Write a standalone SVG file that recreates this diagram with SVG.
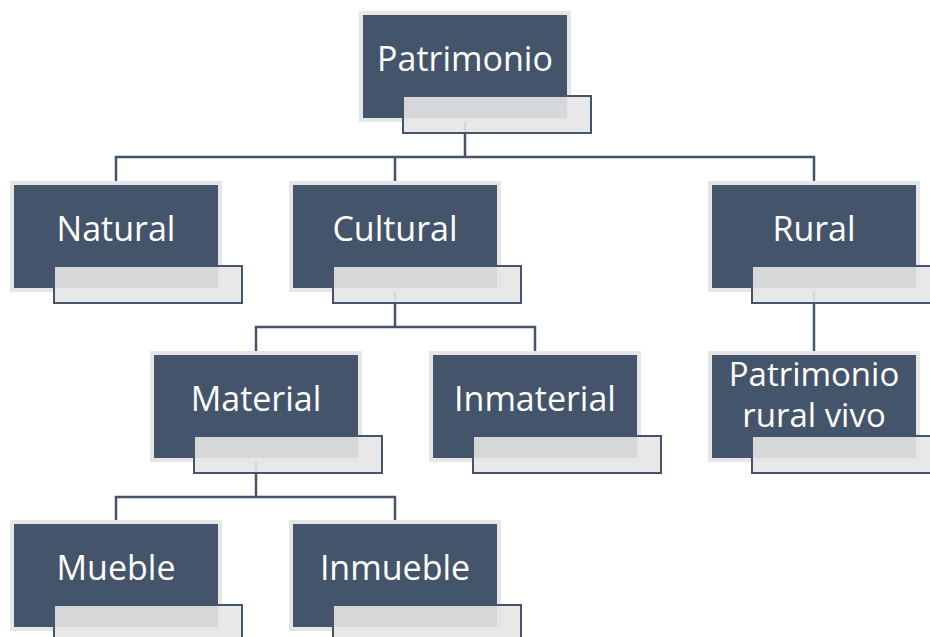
<svg xmlns="http://www.w3.org/2000/svg" width="930" height="637" viewBox="0 0 930 637">
<style>
.halo{fill:#e7e6e6}
.box{fill:#44546a}
.tab{fill:#e7e6e6;fill-opacity:0.9;stroke:#44546a;stroke-width:2}
.lbl{font-family:"Open Sans","Noto Sans",sans-serif;font-size:34px;fill:#ffffff;text-anchor:middle}
.sm{font-size:33px}
.conn{fill:none;stroke:#44546a;stroke-width:2.5}
</style>
<rect width="930" height="637" fill="#ffffff"/>
<g id="connectors" class="conn">
<path d="M465 119 V157 M116 185 V157 H814 V185 M395 157 V185"/>
<path d="M395 288 V327 M256 355 V327 H535 V355"/>
<path d="M256 458 V497 M116 524 V497 H395 V524"/>
<path d="M814 288 V355"/>
</g>
<g id="patrimonio">
<rect class="halo" x="359" y="11" width="212" height="111"/>
<rect class="box" x="363" y="15" width="204" height="103"/>
<rect class="tab" x="403" y="96" width="188" height="37"/>
<text class="lbl" x="465" y="71">Patrimonio</text>
</g>
<g id="natural">
<rect class="halo" x="10" y="181" width="212" height="111"/>
<rect class="box" x="14" y="185" width="204" height="103"/>
<rect class="tab" x="54" y="266" width="188" height="37"/>
<text class="lbl" x="116" y="241">Natural</text>
</g>
<g id="cultural">
<rect class="halo" x="289" y="181" width="212" height="111"/>
<rect class="box" x="293" y="185" width="204" height="103"/>
<rect class="tab" x="333" y="266" width="188" height="37"/>
<text class="lbl" x="395" y="241">Cultural</text>
</g>
<g id="rural">
<rect class="halo" x="708" y="181" width="212" height="111"/>
<rect class="box" x="712" y="185" width="204" height="103"/>
<rect class="tab" x="752" y="266" width="188" height="37"/>
<text class="lbl" x="814" y="241">Rural</text>
</g>
<g id="material">
<rect class="halo" x="150" y="351" width="212" height="111"/>
<rect class="box" x="154" y="355" width="204" height="103"/>
<rect class="tab" x="194" y="436" width="188" height="37"/>
<text class="lbl" x="256" y="411">Material</text>
</g>
<g id="inmaterial">
<rect class="halo" x="429" y="351" width="212" height="111"/>
<rect class="box" x="433" y="355" width="204" height="103"/>
<rect class="tab" x="473" y="436" width="188" height="37"/>
<text class="lbl" x="535" y="411">Inmaterial</text>
</g>
<g id="patrimonio-rural-vivo">
<rect class="halo" x="708" y="351" width="212" height="111"/>
<rect class="box" x="712" y="355" width="204" height="103"/>
<rect class="tab" x="752" y="436" width="188" height="37"/>
<text class="lbl sm" x="814" y="386">Patrimonio</text>
<text class="lbl sm" x="814" y="427">rural vivo</text>
</g>
<g id="mueble">
<rect class="halo" x="10" y="520" width="212" height="111"/>
<rect class="box" x="14" y="524" width="204" height="103"/>
<rect class="tab" x="54" y="605" width="188" height="37"/>
<text class="lbl" x="116" y="580">Mueble</text>
</g>
<g id="inmueble">
<rect class="halo" x="289" y="520" width="212" height="111"/>
<rect class="box" x="293" y="524" width="204" height="103"/>
<rect class="tab" x="333" y="605" width="188" height="37"/>
<text class="lbl" x="395" y="580">Inmueble</text>
</g>
</svg>
